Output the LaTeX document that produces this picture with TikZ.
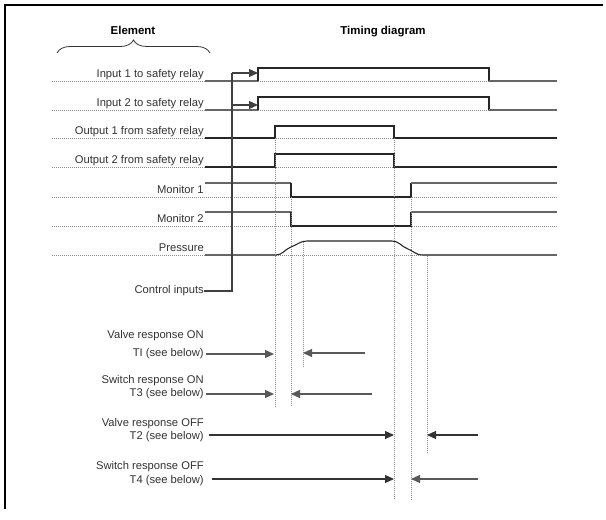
\documentclass[tikz,border=0pt]{standalone}
\usepackage{fontspec}
\setmainfont{Liberation Sans}
\usetikzlibrary{arrows.meta,decorations.pathreplacing}
\begin{document}
\begin{tikzpicture}[x=0.75pt,y=-0.75pt,
 lbl/.style={anchor=base east, inner sep=0pt, font=\fontsize{8.4}{10}\selectfont, text=black!80},
 ttl/.style={anchor=base, inner sep=0pt, font=\bfseries\fontsize{8.6}{10}\selectfont},
 baseln/.style={black!45, dash pattern=on 0.75pt off 0.75pt, line width=0.6pt},
 lo/.style={black!60, line width=1.1pt},
 hi/.style={black!85, line width=0.8pt},
 vdot/.style={black!45, dash pattern=on 0.75pt off 0.75pt, line width=0.6pt},
 arr/.style={-{Triangle[length=6.75pt,width=6pt]}, black!65, line width=1pt},
 arrk/.style={-{Triangle[length=6.75pt,width=6pt]}, black!80, line width=0.8pt},
 ctl/.style={black!75, line width=1.3pt}]
\useasboundingbox (0,0) rectangle (606,520);
\fill[white] (0,0) rectangle (606,520);
% frame
\draw[line width=1.6pt] (5,4) -- (5,509);
\draw[line width=1.6pt] (4,5) -- (603,5);
% titles
\node[ttl] (tEl) at (133,35) {Element};
\node[ttl] (tTd) at (383,35) {Timing diagram};
\draw[black!80, line width=0.6pt, decorate, decoration={brace, amplitude=13pt*0.75}] (57,53) -- (210,53);
% baselines
\foreach \y in {81,110,138,167,197,226,255}
  \draw[baseln] (52,\y) -- (557,\y);
% labels
\node[lbl] (lIn1) at (204,78) {Input 1 to safety relay};
\node[lbl] (lIn2) at (204,107) {Input 2 to safety relay};
\node[lbl] (lOut1) at (204,135) {Output 1 from safety relay};
\node[lbl] (lOut2) at (204,164) {Output 2 from safety relay};
\node[lbl] (lMon1) at (204,194) {Monitor 1};
\node[lbl] (lMon2) at (204,223) {Monitor 2};
\node[lbl] (lPr) at (204,252) {Pressure};
% inputs
\foreach \lw/\hg in {81/68,110/97}{
  \draw[lo] (205,\lw) -- (258,\lw);
  \draw[hi] (258,\lw) -- (258,\hg) -- (489,\hg) -- (489,\lw);
  \draw[lo] (489,\lw) -- (557,\lw);
}
% outputs
\foreach \lw/\hg in {138/126,167/154}{
  \draw[hi] (205,\lw) -- (275,\lw) -- (275,\hg) -- (394,\hg) -- (394,\lw) -- (557,\lw);
}
% monitors
\foreach \lw/\hg in {197/183,226/212}{
  \draw[lo] (205,\hg) -- (291,\hg);
  \draw[hi] (291,\hg) -- (291,\lw) -- (411,\lw) -- (411,\hg);
  \draw[lo] (411,\hg) -- (557,\hg);
}
% pressure
\draw[lo] (205,255) -- (276,255);
\draw[hi] (276,255) to[out=0,in=200] (291,247) to[out=20,in=180] (307,241) -- (392,241)
  to[out=0,in=160] (408,249) to[out=-20,in=180] (422,255);
\draw[lo] (422,255) -- (557,255);
% vertical dotted guides
\draw[vdot] (275,138) -- (275,408);
\draw[vdot] (291,197) -- (291,407);
\draw[vdot] (303,242) -- (303,368);
\draw[vdot] (394,138) -- (394,500);
\draw[vdot] (411,197) -- (411,500);
\draw[vdot] (427,256) -- (427,453);
% control inputs
\node[lbl, anchor=east] (lCtl) at (204,291) {Control inputs};
\coordinate (cTop) at (232,73);
\coordinate (cMid) at (232,105);
\coordinate (aIn1) at (258,73);
\coordinate (aIn2) at (258,105);
\draw[ctl] (lCtl.east) -| (cTop);
\draw[ctl, arr, black!75] (cTop) -- (aIn1);
\draw[ctl, arr, black!75] (cMid) -- (aIn2);
% response labels
\node[lbl] (lV1a) at (204,338.5) {Valve response ON};
\node[lbl] (lV1b) at (204,356.5) {TI (see below)};
\node[lbl] (lS1a) at (204,383) {Switch response ON};
\node[lbl] (lS1b) at (204,396.5) {T3 (see below)};
\node[lbl] (lV2a) at (204,426) {Valve response OFF};
\node[lbl] (lV2b) at (204,439.5) {T2 (see below)};
\node[lbl] (lS2a) at (204,469) {Switch response OFF};
\node[lbl] (lS2b) at (204,483) {T4 (see below)};
% response arrows
\coordinate (t1s) at (206,354); \coordinate (t1e) at (274,354);
\coordinate (t1r) at (365,353); \coordinate (t1f) at (303,353);
\coordinate (t3s) at (206,394); \coordinate (t3e) at (274,394);
\coordinate (t3r) at (372,394); \coordinate (t3f) at (291,394);
\coordinate (t2s) at (209,435); \coordinate (t2e) at (394,435);
\coordinate (t2r) at (478,435); \coordinate (t2f) at (427,435);
\coordinate (t4s) at (212,479); \coordinate (t4e) at (394,479);
\coordinate (t4r) at (478,479); \coordinate (t4f) at (411,479);
\draw[arr] (t1s) -- (t1e);
\draw[arr] (t1r) -- (t1f);
\draw[arr] (t3s) -- (t3e);
\draw[arr] (t3r) -- (t3f);
\draw[arrk] (t2s) -- (t2e);
\draw[arrk] (t2r) -- (t2f);
\draw[arrk] (t4s) -- (t4e);
\draw[arr] (t4r) -- (t4f);
\end{tikzpicture}
\end{document}
